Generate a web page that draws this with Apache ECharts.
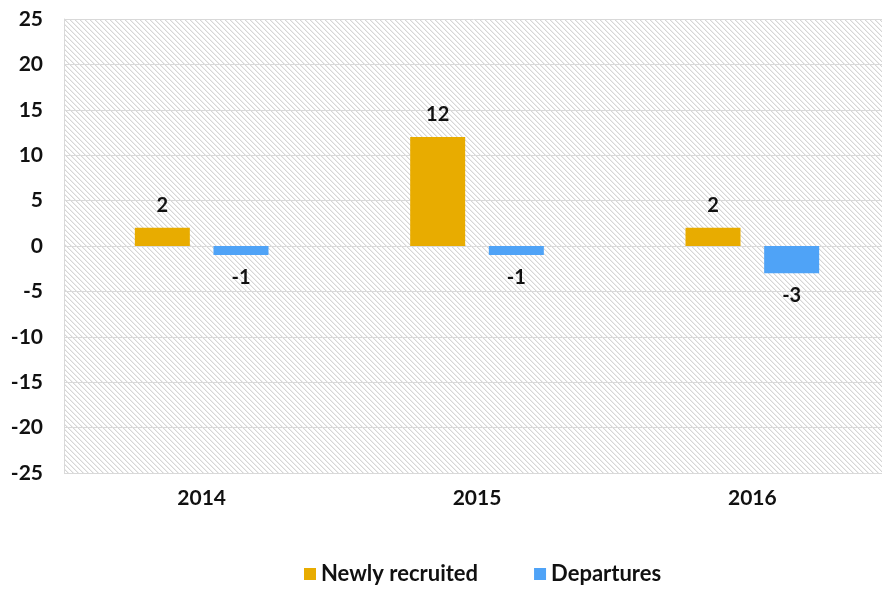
<!DOCTYPE html>
<html>
<head>
<meta charset="utf-8">
<script src="https://cdn.jsdelivr.net/npm/echarts@6/dist/echarts.min.js"></script>
<style>
  html, body { margin: 0; padding: 0; background: #fff; }
  #chart { width: 882px; height: 593px; }
</style>
</head>
<body>
<div id="chart"></div>
<script>
  // data
  var years = ['2014', '2015', '2016'];
  var recruited = [2, 12, 2];
  var departures = [-1, -1, -3];
  var seriesNames = ['Newly recruited', 'Departures'];

  var font = 'Lato, "Open Sans", sans-serif';

  // diagonal hatch for the plot background
  var tile = document.createElement('canvas');
  tile.width = 5;
  tile.height = 5;
  var ctx = tile.getContext('2d');
  ctx.fillStyle = '#ffffff';
  ctx.fillRect(0, 0, 5, 5);
  ctx.fillStyle = '#d6d6d6';
  for (var i = 0; i < 5; i++) {
    ctx.fillRect(i, i, 1, 1);
  }
  ctx.fillStyle = '#eeeeee';
  for (var j = 0; j < 5; j++) {
    ctx.fillRect((j + 1) % 5, j, 1, 1);
  }

  var chart = echarts.init(document.getElementById('chart'));
  var labelStyle = {
    show: true,
    color: '#111',
    fontFamily: font,
    fontWeight: 'bold',
    fontSize: 20
  };

  chart.setOption({
    animation: false,
    grid: {
      left: 64,
      right: -8,
      top: 19,
      bottom: 120,
      outerBoundsMode: 'none',
      containLabel: false,
      show: true,
      borderWidth: 0,
      backgroundColor: { image: tile, repeat: 'repeat' }
    },
    legend: {
      bottom: 3,
      left: 299,
      itemWidth: 12,
      itemHeight: 12,
      itemGap: 56,
      icon: 'rect',
      textStyle: { fontFamily: font, fontWeight: 'bold', fontSize: 22, color: '#111' },
      data: seriesNames
    },
    xAxis: {
      type: 'category',
      data: years,
      axisLine: { show: false },
      axisTick: { show: false },
      axisLabel: { fontFamily: font, fontWeight: 'bold', fontSize: 21, color: '#111', margin: 15 },
      splitLine: {
        show: true,
        interval: function (idx) { return idx === 1; },
        lineStyle: { color: '#d9d9d9' }
      }
    },
    yAxis: {
      type: 'value',
      min: -25,
      max: 25,
      interval: 5,
      axisLine: { show: true, lineStyle: { color: '#d9d9d9' } },
      axisTick: { show: false },
      axisLabel: { fontFamily: font, fontWeight: 'bold', fontSize: 21, color: '#111', margin: 21 },
      splitLine: { show: true, lineStyle: { color: '#d9d9d9' } }
    },
    series: [
      {
        name: seriesNames[0],
        type: 'bar',
        data: recruited,
        barWidth: 55,
        barGap: '43%',
        itemStyle: { color: '#e8ac00' },
        label: Object.assign({ position: 'top', distance: 12 }, labelStyle)
      },
      {
        name: seriesNames[1],
        type: 'bar',
        data: departures,
        barWidth: 55,
        barGap: '43%',
        itemStyle: { color: '#4fa3f7' },
        label: Object.assign({ position: 'bottom', distance: 12 }, labelStyle)
      }
    ]
  });
</script>
</body>
</html>
